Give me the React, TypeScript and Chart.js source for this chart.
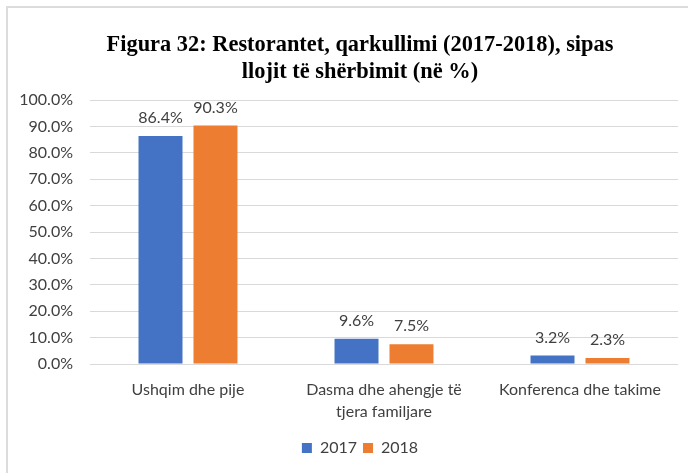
import React, { useEffect, useRef } from "react";
import { Chart, registerables } from "chart.js";

Chart.register(...registerables);

const categories: (string | string[])[] = [
  "Ushqim dhe pije",
  ["Dasma dhe ahengje të", "tjera familjare"],
  "Konferenca dhe takime",
];
const seriesNames = ["2017", "2018"];
const values2017 = [86.4, 9.6, 3.2];
const values2018 = [90.3, 7.5, 2.3];
const yTicksMin = 0;
const yTicksMax = 100;
const yTicksStep = 10;
const titleLines = [
  "Figura 32: Restorantet, qarkullimi (2017-2018), sipas",
  "llojit të shërbimit (në %)",
];

const TEXT = "#404040";
const FONT = "Lato";

const dataLabelPlugin = {
  id: "dataLabels",
  afterDatasetsDraw(chart: any) {
    const ctx = chart.ctx;
    ctx.save();
    ctx.font = `16px ${FONT}`;
    ctx.fillStyle = TEXT;
    ctx.textAlign = "center";
    ctx.textBaseline = "middle";
    chart.data.datasets.forEach((ds: any, di: number) => {
      const meta = chart.getDatasetMeta(di);
      meta.data.forEach((el: any, i: number) => {
        const v = ds.data[i] as number;
        ctx.fillText(`${v.toFixed(1)}%`, el.x, el.y - 18);
      });
    });
    ctx.restore();
  },
};

export default function App() {
  const ref = useRef<HTMLCanvasElement | null>(null);
  useEffect(() => {
    if (!ref.current) return;
    const chart = new Chart(ref.current, {
      type: "bar",
      data: {
        labels: categories as any,
        datasets: [
          {
            label: seriesNames[0],
            data: values2017,
            backgroundColor: "#4472C4",
            categoryPercentage: 0.561,
            barPercentage: 0.8,
          },
          {
            label: seriesNames[1],
            data: values2018,
            backgroundColor: "#ED7D31",
            categoryPercentage: 0.561,
            barPercentage: 0.8,
          },
        ],
      },
      options: {
        responsive: false,
        animation: false,
        devicePixelRatio: 1,
        layout: { padding: { left: 0, right: 0, top: 0, bottom: 12 } },
        plugins: {
          title: {
            display: true,
            text: titleLines,
            color: "#000000",
            font: { family: "Liberation Serif", size: 22.4, weight: "bold", lineHeight: "27px" as any },
            padding: { top: 24, bottom: 14 },
          },
          legend: {
            position: "bottom",
            labels: {
              boxWidth: 10,
              boxHeight: 10,
              padding: 6,
              color: TEXT,
              font: { family: FONT, size: 16 },
            },
          },
          tooltip: { enabled: false },
        },
        scales: {
          x: {
            grid: { display: false },
            border: { display: false },
            ticks: {
              color: TEXT,
              padding: 7,
              font: { family: FONT, size: 16, lineHeight: 1.375 },
              maxRotation: 0,
            },
            afterFit: (s: any) => {
              s.height = 70;
            },
          },
          y: {
            min: yTicksMin,
            max: yTicksMax,
            grid: { color: "#d9d9d9", lineWidth: 1, drawTicks: false },
            border: { display: false },
            ticks: {
              stepSize: yTicksStep,
              color: TEXT,
              padding: 17,
              font: { family: FONT, size: 16 },
              callback: (v: any) => `${Number(v).toFixed(1)}%`,
            },
            afterFit: (s: any) => {
              s.width = 82;
            },
          },
          yRight: {
            position: "right",
            min: yTicksMin,
            max: yTicksMax,
            grid: { display: false, drawTicks: false },
            border: { display: false },
            ticks: { display: false },
            afterFit: (s: any) => {
              s.width = 34;
            },
          },
        },
      },
      plugins: [dataLabelPlugin],
    });
    return () => chart.destroy();
  }, []);

  return (
    <div
      style={{
        position: "fixed",
        left: 0,
        top: 0,
        width: 688,
        height: 473,
        overflow: "hidden",
        background: "#ffffff",
      }}
    >
      <div
        style={{
          position: "absolute",
          left: 6,
          top: 6,
          width: 720,
          height: 480,
          border: "2px solid #dcdcdc",
          boxSizing: "border-box",
        }}
      />
      <canvas
        ref={ref}
        width={704}
        height={470}
        style={{ position: "absolute", left: 8, top: 8, width: 704, height: 470 }}
      />
    </div>
  );
}
